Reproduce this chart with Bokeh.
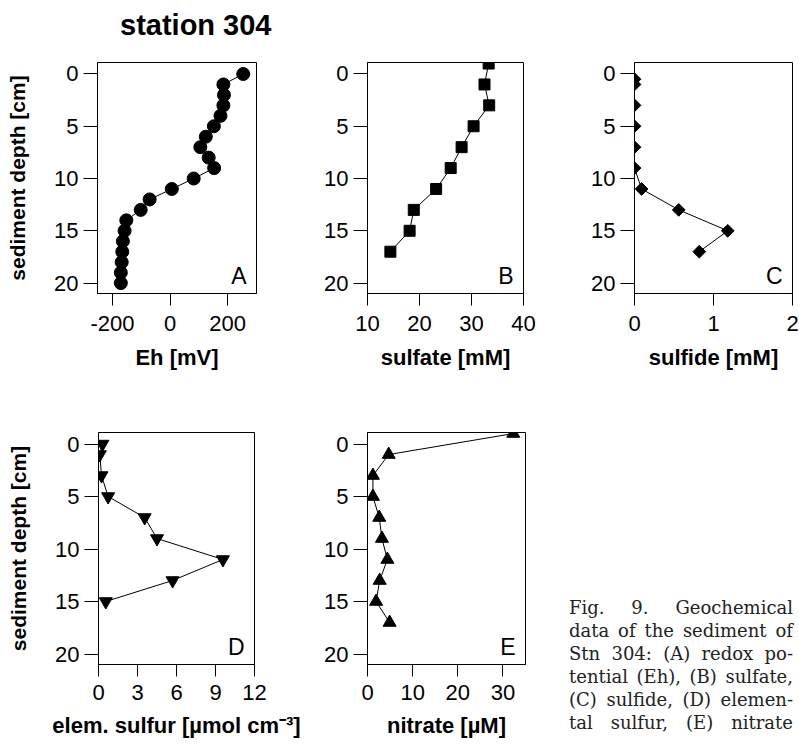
from bokeh.plotting import figure
from bokeh.models import Range1d, FixedTicker, Label, Div
from bokeh.layouts import row, column
from bokeh.embed import file_html
from bokeh.resources import INLINE

# ---------------- data ----------------
eh_depth = [0, 1, 2, 3, 4, 5, 6, 7, 8, 9, 10, 11, 12, 13, 14, 15, 16, 17, 18, 19, 20]
eh_mv = [254, 185, 187, 185, 175, 152, 124, 105, 134, 153, 82, 6, -71, -102,
         -152, -158, -164, -166, -168, -171, -171]

so4_depth = [-1, 1, 3, 5, 7, 9, 11, 13, 15, 17]
so4_mm = [33.3, 32.5, 33.4, 30.4, 28.1, 26.0, 23.2, 18.9, 18.1, 14.4]

h2s_depth = [0.5, 1, 3, 5, 7, 9, 11, 13, 15, 17]
h2s_mm = [0, 0, 0, 0, 0, 0, 0.09, 0.56, 1.18, 0.82]

s0_depth = [0, 1, 3, 5, 7, 9, 11, 13, 15]
s0_umol = [0.3, 0.1, 0.23, 0.74, 3.55, 4.5, 9.57, 5.7, 0.56]

no3_depth = [-1, 1, 3, 5, 7, 9, 11, 13, 15, 17]
no3_um = [32.3, 4.7, 1.2, 1.2, 2.6, 3.2, 4.4, 2.7, 1.9, 4.9]

depth_ticks = [0, 5, 10, 15, 20]
eh_ticks = [-200, 0, 200]
so4_ticks = [10, 20, 30, 40]
h2s_ticks = [0, 1, 2]
s0_ticks = [0, 3, 6, 9, 12]
no3_ticks = [0, 10, 20, 30]

title_text = "station 304"
depth_label = "sediment depth [cm]"
caption_lines = [
    "Fig. 9. Geochemical",
    "data of the sediment of",
    "Stn 304: (A) redox po-",
    "tential (Eh), (B) sulfate,",
    "(C) sulfide, (D) elemen-",
    "tal sulfur, (E) nitrate",
]

FONT = "Liberation Sans"
Y_TOP, Y_BOTTOM = -1.1, 21


def panel(x, y, xr, xticks, marker, size, letter, xlabel, ylabel,
          width, height, L, R, T, B, angle=0.0, std=(10, 11), overrides=None):
    p = figure(width=width, height=height,
               x_range=Range1d(xr[0], xr[1]), y_range=Range1d(Y_BOTTOM, Y_TOP),
               output_backend="svg", toolbar_location=None,
               min_border_left=L, min_border_right=R,
               min_border_top=T, min_border_bottom=B)
    p.background_fill_color = "white"
    p.border_fill_color = "white"
    p.outline_line_color = "black"
    p.outline_line_width = 1
    p.xgrid.visible = False
    p.ygrid.visible = False

    p.line(x, y, line_color="black", line_width=1)
    p.scatter(x, y, marker=marker, size=size, angle=angle,
              fill_color="black", line_color="black")

    xa = p.xaxis[0]
    xa.ticker = FixedTicker(ticks=xticks)
    if overrides:
        xa.major_label_overrides = overrides
    xa.axis_label = xlabel
    xa.axis_label_text_font = FONT
    xa.axis_label_text_font_style = "bold"
    xa.axis_label_text_font_size = "22px"
    xa.axis_label_text_color = "black"
    xa.axis_label_standoff = std[1]
    xa.major_label_text_font = FONT
    xa.major_label_text_font_size = "22px"
    xa.major_label_text_color = "black"
    xa.major_label_standoff = std[0]
    xa.major_tick_out = 12
    xa.major_tick_in = 0
    xa.minor_tick_out = 0
    xa.minor_tick_in = 0
    xa.axis_line_color = "black"
    xa.major_tick_line_color = "black"

    ya = p.yaxis[0]
    ya.ticker = FixedTicker(ticks=depth_ticks)
    if ylabel:
        ya.axis_label = ylabel
    ya.axis_label_text_font = FONT
    ya.axis_label_text_font_style = "bold"
    ya.axis_label_text_font_size = "21px"
    ya.axis_label_text_color = "black"
    ya.axis_label_standoff = 22
    ya.major_label_text_font = FONT
    ya.major_label_text_font_size = "22px"
    ya.major_label_text_color = "black"
    ya.major_label_standoff = 5
    ya.major_tick_out = 14
    ya.major_tick_in = 0
    ya.minor_tick_out = 0
    ya.minor_tick_in = 0
    ya.axis_line_color = "black"
    ya.major_tick_line_color = "black"

    p.add_layout(Label(x=xr[1], y=Y_BOTTOM, x_offset=-10, y_offset=18, text=letter,
                       text_align="right", text_baseline="alphabetic",
                       text_font=FONT, text_font_size="23px", text_color="black"))
    return p


title_div = Div(
    text='<div style="padding:9px 0 0 120px;font-family:\'Liberation Sans\';'
         'font-weight:bold;font-size:29px;line-height:33px;color:black;'
         'white-space:nowrap;">%s</div>' % title_text,
    width=799, height=44, margin=(0, 0, 0, 0))

pa = panel(eh_mv, eh_depth, (-252, 300), eh_ticks, "circle", 13, "A", "Eh [mV]",
           depth_label, 317, 333, 97, 61, 18, 84, overrides={-200: "-200"})
pb = panel(so4_mm, so4_depth, (10, 40), so4_ticks, "square", 11, "B", "sulfate [mM]",
           None, 267, 333, 50, 61, 18, 84)
pc = panel(h2s_mm, h2s_depth, (0, 2), h2s_ticks, "square", 9, "C", "sulfide [mM]",
           None, 215, 333, 50, 7, 18, 84, angle=0.785398)

pd = panel(s0_umol, s0_depth, (0, 12), s0_ticks, "inverted_triangle", 13, "D",
           "elem. sulfur [µmol cm⁻³]", depth_label, 317, 367, 98, 63, 55, 80, std=(8, 10))
pe = panel(no3_um, no3_depth, (0, 35), no3_ticks, "triangle", 13, "E", "nitrate [µM]",
           None, 252, 367, 50, 44, 55, 80, std=(8, 10))

line_html = "".join(
    '<div style="text-align:justify;text-align-last:justify;white-space:nowrap;">%s</div>' % t
    for t in caption_lines)
caption = Div(
    text='<div style="padding-top:219px;font-family:\'DejaVu Serif\';font-size:18px;'
         'line-height:23px;color:#222;width:224px;">%s</div>' % line_html,
    width=230, height=367, margin=(0, 0, 0, 0))

layout = column(title_div, row(pa, pb, pc), row(pd, pe, caption))

open("out.html", "w").write(file_html(layout, INLINE))
